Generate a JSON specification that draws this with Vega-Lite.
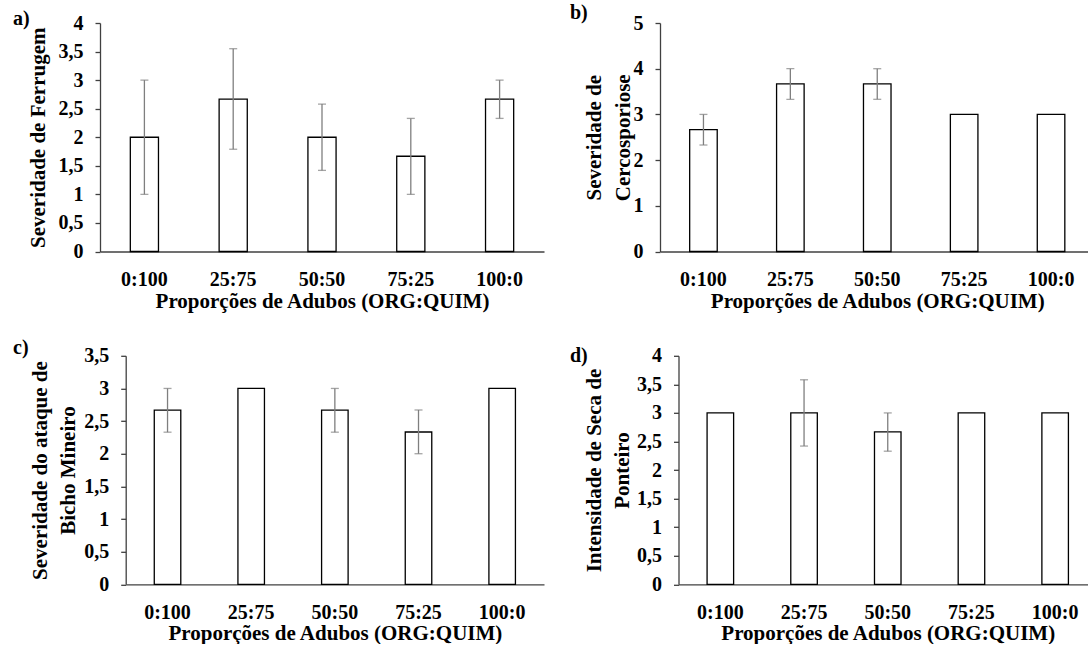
{
  "$schema": "https://vega.github.io/schema/vega-lite/v6.json",
  "padding": {"left": 13, "top": 3, "right": 0, "bottom": 0},
  "bounds": "flush",
  "columns": 2,
  "spacing": {"row": 103.8, "column": 116},
  "datasets": {
    "ferrugem": [
      {"prop": "0:100", "mean": 2.0, "lo": 1.0, "hi": 3.0},
      {"prop": "25:75", "mean": 2.667, "lo": 1.79, "hi": 3.55},
      {"prop": "50:50", "mean": 2.0, "lo": 1.42, "hi": 2.58},
      {"prop": "75:25", "mean": 1.667, "lo": 1.0, "hi": 2.33},
      {"prop": "100:0", "mean": 2.667, "lo": 2.33, "hi": 3.0}
    ],
    "cercosporiose": [
      {"prop": "0:100", "mean": 2.667, "lo": 2.33, "hi": 3.0},
      {"prop": "25:75", "mean": 3.667, "lo": 3.33, "hi": 4.0},
      {"prop": "50:50", "mean": 3.667, "lo": 3.33, "hi": 4.0},
      {"prop": "75:25", "mean": 3.0, "lo": null, "hi": null},
      {"prop": "100:0", "mean": 3.0, "lo": null, "hi": null}
    ],
    "bicho": [
      {"prop": "0:100", "mean": 2.667, "lo": 2.33, "hi": 3.0},
      {"prop": "25:75", "mean": 3.0, "lo": null, "hi": null},
      {"prop": "50:50", "mean": 2.667, "lo": 2.33, "hi": 3.0},
      {"prop": "75:25", "mean": 2.333, "lo": 2.0, "hi": 2.67},
      {"prop": "100:0", "mean": 3.0, "lo": null, "hi": null}
    ],
    "seca": [
      {"prop": "0:100", "mean": 3.0, "lo": null, "hi": null},
      {"prop": "25:75", "mean": 3.0, "lo": 2.42, "hi": 3.58},
      {"prop": "50:50", "mean": 2.667, "lo": 2.33, "hi": 3.0},
      {"prop": "75:25", "mean": 3.0, "lo": null, "hi": null},
      {"prop": "100:0", "mean": 3.0, "lo": null, "hi": null}
    ]
  },
  "concat": [
    {
      "width": 444, "height": 228.5,
      "title": {"text": "a)", "anchor": "start", "frame": "group", "dx": -87, "dy": 32, "offset": 0, "baseline": "alphabetic", "font": "Liberation Serif", "fontSize": 20, "fontWeight": "bold", "color": "black"},
      "data": {"name": "ferrugem"},
      "encoding": {
        "x": {"field": "prop", "type": "nominal", "sort": null, "scale": {"paddingInner": 0.683, "paddingOuter": 0.3415}, "axis": {"title": "Proporções de Adubos (ORG:QUIM)"}}
      },
      "layer": [
        {"mark": {"type": "bar", "fill": "white", "stroke": "black", "strokeWidth": 1.3},
         "encoding": {"y": {"field": "mean", "type": "quantitative", "scale": {"domain": [0, 4], "nice": false}, "axis": {"values": [0, 0.5, 1, 1.5, 2, 2.5, 3, 3.5, 4], "ticks": true, "tickSize": 5, "labelPadding": 12, "labelExpr": "replace(format(datum.value, '.1~f'), '.', ',')", "title": "Severidade de Ferrugem", "titleX": -56}}}},
        {"mark": {"type": "rule", "color": "#7f7f7f", "strokeWidth": 1.3},
         "encoding": {"y": {"field": "lo", "type": "quantitative", "scale": {"domain": [0, 4], "nice": false}, "axis": {"values": [0, 0.5, 1, 1.5, 2, 2.5, 3, 3.5, 4], "ticks": true, "tickSize": 5, "labelPadding": 12, "labelExpr": "replace(format(datum.value, '.1~f'), '.', ',')", "title": "Severidade de Ferrugem", "titleX": -56}}, "y2": {"field": "hi"}}},
        {"mark": {"type": "tick", "orient": "horizontal", "size": 8, "thickness": 1.3, "color": "#7f7f7f"},
         "encoding": {"y": {"field": "lo", "type": "quantitative", "scale": {"domain": [0, 4], "nice": false}, "axis": {"values": [0, 0.5, 1, 1.5, 2, 2.5, 3, 3.5, 4], "ticks": true, "tickSize": 5, "labelPadding": 12, "labelExpr": "replace(format(datum.value, '.1~f'), '.', ',')", "title": "Severidade de Ferrugem", "titleX": -56}}}},
        {"mark": {"type": "tick", "orient": "horizontal", "size": 8, "thickness": 1.3, "color": "#7f7f7f"},
         "encoding": {"y": {"field": "hi", "type": "quantitative", "scale": {"domain": [0, 4], "nice": false}, "axis": {"values": [0, 0.5, 1, 1.5, 2, 2.5, 3, 3.5, 4], "ticks": true, "tickSize": 5, "labelPadding": 12, "labelExpr": "replace(format(datum.value, '.1~f'), '.', ',')", "title": "Severidade de Ferrugem", "titleX": -56}}}}
      ]
    },
    {
      "width": 434.5, "height": 228.5,
      "title": {"text": "b)", "anchor": "start", "frame": "group", "dx": -90, "dy": 26, "offset": 0, "baseline": "alphabetic", "font": "Liberation Serif", "fontSize": 20, "fontWeight": "bold", "color": "black"},
      "data": {"name": "cercosporiose"},
      "encoding": {
        "x": {"field": "prop", "type": "nominal", "sort": null, "scale": {"paddingInner": 0.683, "paddingOuter": 0.3415}, "axis": {"title": "Proporções de Adubos (ORG:QUIM)"}}
      },
      "layer": [
        {"mark": {"type": "bar", "fill": "white", "stroke": "black", "strokeWidth": 1.3},
         "encoding": {"y": {"field": "mean", "type": "quantitative", "scale": {"domain": [0, 5], "nice": false}, "axis": {"values": [0, 1, 2, 3, 4, 5], "ticks": true, "tickSize": 5, "labelPadding": 12, "labelExpr": "replace(format(datum.value, '.1~f'), '.', ',')", "title": ["Severidade de", "Cercosporiose"], "titleX": -59.5, "titleLineHeight": 29}}}},
        {"mark": {"type": "rule", "color": "#7f7f7f", "strokeWidth": 1.3},
         "encoding": {"y": {"field": "lo", "type": "quantitative", "scale": {"domain": [0, 5], "nice": false}, "axis": {"values": [0, 1, 2, 3, 4, 5], "ticks": true, "tickSize": 5, "labelPadding": 12, "labelExpr": "replace(format(datum.value, '.1~f'), '.', ',')", "title": ["Severidade de", "Cercosporiose"], "titleX": -59.5, "titleLineHeight": 29}}, "y2": {"field": "hi"}}},
        {"mark": {"type": "tick", "orient": "horizontal", "size": 8, "thickness": 1.3, "color": "#7f7f7f"},
         "encoding": {"y": {"field": "lo", "type": "quantitative", "scale": {"domain": [0, 5], "nice": false}, "axis": {"values": [0, 1, 2, 3, 4, 5], "ticks": true, "tickSize": 5, "labelPadding": 12, "labelExpr": "replace(format(datum.value, '.1~f'), '.', ',')", "title": ["Severidade de", "Cercosporiose"], "titleX": -59.5, "titleLineHeight": 29}}}},
        {"mark": {"type": "tick", "orient": "horizontal", "size": 8, "thickness": 1.3, "color": "#7f7f7f"},
         "encoding": {"y": {"field": "hi", "type": "quantitative", "scale": {"domain": [0, 5], "nice": false}, "axis": {"values": [0, 1, 2, 3, 4, 5], "ticks": true, "tickSize": 5, "labelPadding": 12, "labelExpr": "replace(format(datum.value, '.1~f'), '.', ',')", "title": ["Severidade de", "Cercosporiose"], "titleX": -59.5, "titleLineHeight": 29}}}}
      ]
    },
    {
      "width": 444, "height": 228.5,
      "title": {"text": "c)", "anchor": "start", "frame": "group", "dx": -87, "dy": 28, "offset": 0, "baseline": "alphabetic", "font": "Liberation Serif", "fontSize": 20, "fontWeight": "bold", "color": "black"},
      "data": {"name": "bicho"},
      "encoding": {
        "x": {"field": "prop", "type": "nominal", "sort": null, "scale": {"paddingInner": 0.683, "paddingOuter": 0.3415, "range": [25.7, 444]}, "axis": {"title": "Proporções de Adubos (ORG:QUIM)"}}
      },
      "layer": [
        {"mark": {"type": "bar", "fill": "white", "stroke": "black", "strokeWidth": 1.3},
         "encoding": {"y": {"field": "mean", "type": "quantitative", "scale": {"domain": [0, 3.5], "nice": false}, "axis": {"offset": -25.7, "values": [0, 0.5, 1, 1.5, 2, 2.5, 3, 3.5], "ticks": true, "tickSize": 5, "labelPadding": 12, "labelExpr": "replace(format(datum.value, '.1~f'), '.', ',')", "title": ["Severidade do ataque de", "Bicho Mineiro"], "titleX": -79}}}},
        {"mark": {"type": "rule", "color": "#7f7f7f", "strokeWidth": 1.3},
         "encoding": {"y": {"field": "lo", "type": "quantitative", "scale": {"domain": [0, 3.5], "nice": false}, "axis": {"offset": -25.7, "values": [0, 0.5, 1, 1.5, 2, 2.5, 3, 3.5], "ticks": true, "tickSize": 5, "labelPadding": 12, "labelExpr": "replace(format(datum.value, '.1~f'), '.', ',')", "title": ["Severidade do ataque de", "Bicho Mineiro"], "titleX": -79}}, "y2": {"field": "hi"}}},
        {"mark": {"type": "tick", "orient": "horizontal", "size": 8, "thickness": 1.3, "color": "#7f7f7f"},
         "encoding": {"y": {"field": "lo", "type": "quantitative", "scale": {"domain": [0, 3.5], "nice": false}, "axis": {"offset": -25.7, "values": [0, 0.5, 1, 1.5, 2, 2.5, 3, 3.5], "ticks": true, "tickSize": 5, "labelPadding": 12, "labelExpr": "replace(format(datum.value, '.1~f'), '.', ',')", "title": ["Severidade do ataque de", "Bicho Mineiro"], "titleX": -79}}}},
        {"mark": {"type": "tick", "orient": "horizontal", "size": 8, "thickness": 1.3, "color": "#7f7f7f"},
         "encoding": {"y": {"field": "hi", "type": "quantitative", "scale": {"domain": [0, 3.5], "nice": false}, "axis": {"offset": -25.7, "values": [0, 0.5, 1, 1.5, 2, 2.5, 3, 3.5], "ticks": true, "tickSize": 5, "labelPadding": 12, "labelExpr": "replace(format(datum.value, '.1~f'), '.', ',')", "title": ["Severidade do ataque de", "Bicho Mineiro"], "titleX": -79}}}}
      ]
    },
    {
      "width": 437, "height": 228.5,
      "title": {"text": "d)", "anchor": "start", "frame": "group", "dx": -90, "dy": 36, "offset": 0, "baseline": "alphabetic", "font": "Liberation Serif", "fontSize": 20, "fontWeight": "bold", "color": "black"},
      "data": {"name": "seca"},
      "encoding": {
        "x": {"field": "prop", "type": "nominal", "sort": null, "scale": {"paddingInner": 0.683, "paddingOuter": 0.3415, "range": [18.5, 437]}, "axis": {"title": "Proporções de Adubos (ORG:QUIM)"}}
      },
      "layer": [
        {"mark": {"type": "bar", "fill": "white", "stroke": "black", "strokeWidth": 1.3},
         "encoding": {"y": {"field": "mean", "type": "quantitative", "scale": {"domain": [0, 4], "nice": false}, "axis": {"offset": -18.5, "values": [0, 0.5, 1, 1.5, 2, 2.5, 3, 3.5, 4], "ticks": true, "tickSize": 5, "labelPadding": 12, "labelExpr": "replace(format(datum.value, '.1~f'), '.', ',')", "title": ["Intensidade de Seca de", "Ponteiro"], "titleX": -78}}}},
        {"mark": {"type": "rule", "color": "#7f7f7f", "strokeWidth": 1.3},
         "encoding": {"y": {"field": "lo", "type": "quantitative", "scale": {"domain": [0, 4], "nice": false}, "axis": {"offset": -18.5, "values": [0, 0.5, 1, 1.5, 2, 2.5, 3, 3.5, 4], "ticks": true, "tickSize": 5, "labelPadding": 12, "labelExpr": "replace(format(datum.value, '.1~f'), '.', ',')", "title": ["Intensidade de Seca de", "Ponteiro"], "titleX": -78}}, "y2": {"field": "hi"}}},
        {"mark": {"type": "tick", "orient": "horizontal", "size": 8, "thickness": 1.3, "color": "#7f7f7f"},
         "encoding": {"y": {"field": "lo", "type": "quantitative", "scale": {"domain": [0, 4], "nice": false}, "axis": {"offset": -18.5, "values": [0, 0.5, 1, 1.5, 2, 2.5, 3, 3.5, 4], "ticks": true, "tickSize": 5, "labelPadding": 12, "labelExpr": "replace(format(datum.value, '.1~f'), '.', ',')", "title": ["Intensidade de Seca de", "Ponteiro"], "titleX": -78}}}},
        {"mark": {"type": "tick", "orient": "horizontal", "size": 8, "thickness": 1.3, "color": "#7f7f7f"},
         "encoding": {"y": {"field": "hi", "type": "quantitative", "scale": {"domain": [0, 4], "nice": false}, "axis": {"offset": -18.5, "values": [0, 0.5, 1, 1.5, 2, 2.5, 3, 3.5, 4], "ticks": true, "tickSize": 5, "labelPadding": 12, "labelExpr": "replace(format(datum.value, '.1~f'), '.', ',')", "title": ["Intensidade de Seca de", "Ponteiro"], "titleX": -78}}}}
      ]
    }
  ],
  "config": {
    "background": "white",
    "view": {"stroke": null},
    "font": "Liberation Serif",
    "axis": {
      "grid": false,
      "labelFont": "Liberation Serif", "labelFontSize": 20, "labelFontWeight": "bold", "labelColor": "black",
      "titleFont": "Liberation Serif", "titleFontSize": 21, "titleFontWeight": "bold", "titleColor": "black",
      "domainColor": "#404040", "domainWidth": 1.3, "tickColor": "#404040", "tickWidth": 1.3,
      "labelOverlap": false, "labelFlush": false
    },
    "axisX": {"ticks": false, "labelAngle": 0, "labelPadding": 18, "titleBaseline": "alphabetic", "titleY": 55.5},
    "axisY": {"tickSize": 5, "labelPadding": 12, "titleBaseline": "alphabetic", "titleAngle": -90, "titleLineHeight": 28}
  }
}
